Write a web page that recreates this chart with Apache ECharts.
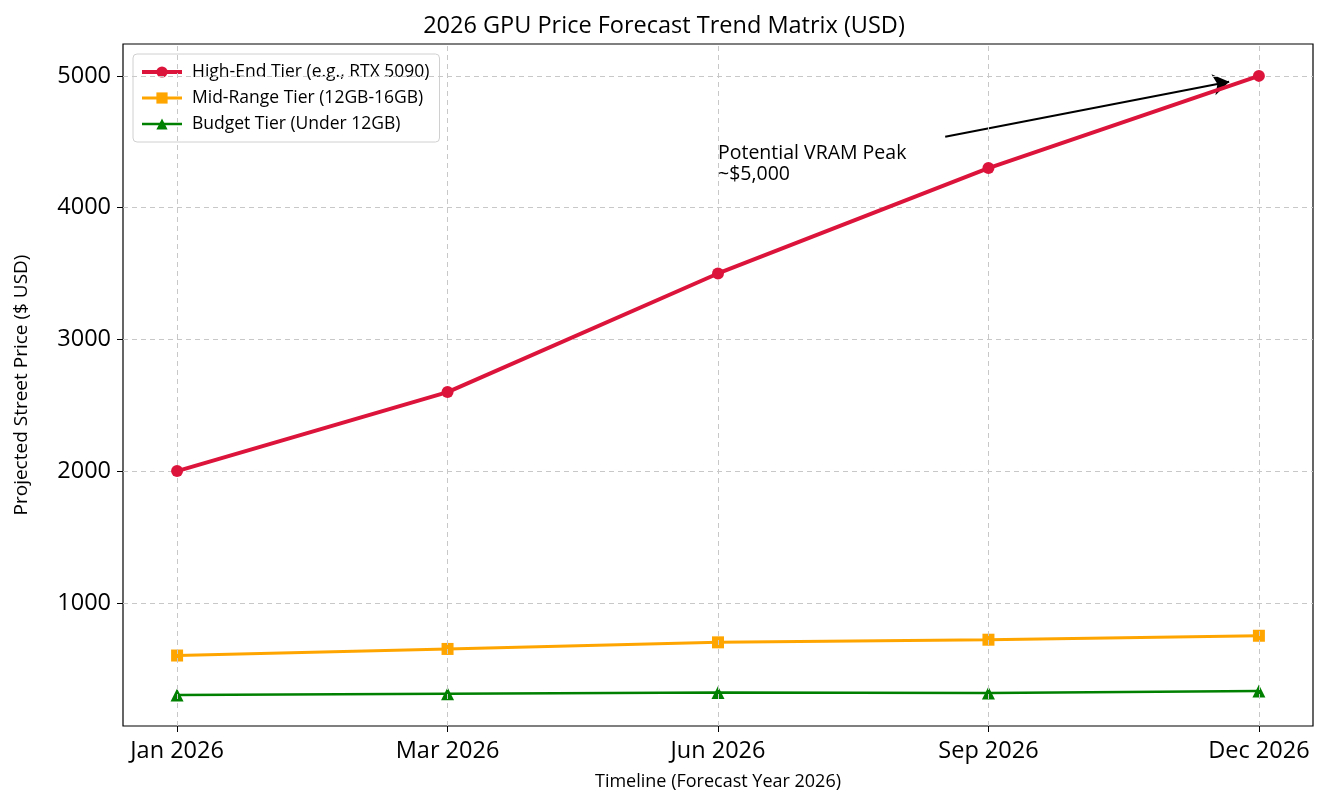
<!DOCTYPE html>
<html>
<head>
<meta charset="utf-8">
<script src="https://cdn.jsdelivr.net/npm/echarts@6/dist/echarts.min.js"></script>
<style>
  html, body { margin: 0; padding: 0; background: #fff; }
  #main { width: 1328px; height: 808px; }
</style>
</head>
<body>
<div id="main"></div>
<script>
// chart data
const months = ['Jan 2026', 'Mar 2026', 'Jun 2026', 'Sep 2026', 'Dec 2026'];
const highEnd = [2000, 2600, 3500, 4300, 5000];
const midRange = [600, 650, 700, 720, 750];
const budget = [300, 310, 320, 315, 330];
const yTicks = [1000, 2000, 3000, 4000, 5000];
const seriesNames = ['High-End Tier (e.g., RTX 5090)', 'Mid-Range Tier (12GB-16GB)', 'Budget Tier (Under 12GB)'];

// annotation (data space)
const noteText = 'Potential VRAM Peak\n~$5,000';
const noteAt = [2, 4200];
const arrowFrom = [2.84, 4538];
const arrowTo = [3.89, 4955];

const font = '"Open Sans", "Noto Sans", sans-serif';
const xIdx = months.map((m, i) => i);
const pair = arr => arr.map((v, i) => [i, v]);

const chart = echarts.init(document.getElementById('main'));

chart.setOption({
  animation: false,
  textStyle: { fontFamily: font },
  title: {
    text: '2026 GPU Price Forecast Trend Matrix (USD)',
    left: 'center',
    top: 9,
    textStyle: { fontSize: 23.5, fontWeight: 'normal', color: '#000', fontFamily: font }
  },
  legend: {
    orient: 'vertical',
    left: 133,
    top: 54,
    itemWidth: 40,
    itemHeight: 14,
    itemGap: 8,
    padding: [9, 10, 9, 7],
    backgroundColor: '#fff',
    borderColor: '#d0d0d0',
    borderWidth: 1,
    borderRadius: 4,
    textStyle: { fontSize: 17.5, color: '#000', fontFamily: font, padding: [0, 0, 0, 5] },
    data: [
      { name: seriesNames[0], lineStyle: { width: 4 } },
      { name: seriesNames[1], lineStyle: { width: 3 } },
      { name: seriesNames[2], lineStyle: { width: 2.5 } }
    ]
  },
  grid: {
    left: 123,
    right: 15,
    top: 44,
    bottom: 82,
    show: true,
    borderColor: '#000',
    borderWidth: 1.2
  },
  xAxis: {
    type: 'value',
    min: -0.2,
    max: 4.2,
    name: 'Timeline (Forecast Year 2026)',
    nameLocation: 'middle',
    nameGap: 47,
    nameTextStyle: { fontSize: 18, color: '#000' },
    axisLine: { show: false, onZero: false },
    axisTick: { show: true, length: 6, customValues: xIdx, lineStyle: { color: '#000' } },
    axisLabel: {
      customValues: xIdx,
      fontSize: 23.5,
      color: '#000',
      margin: 13,
      formatter: v => months[Math.round(v)]
    },
    splitLine: { show: false }
  },
  yAxis: {
    type: 'value',
    min: 65,
    max: 5242,
    name: 'Projected Street Price ($ USD)',
    nameLocation: 'middle',
    nameGap: 92,
    nameTextStyle: { fontSize: 19, color: '#000' },
    axisLine: { show: false, onZero: false },
    axisTick: { show: true, length: 6, customValues: yTicks, lineStyle: { color: '#000' } },
    axisLabel: { customValues: yTicks, fontSize: 23.5, color: '#000', margin: 12, formatter: v => String(v) },
    splitLine: { show: false }
  },
  series: [
    {
      name: seriesNames[0],
      type: 'line',
      data: pair(highEnd),
      color: '#DC143C',
      symbol: 'circle',
      symbolSize: 12,
      lineStyle: { width: 4 },
      z: 5,
      markLine: {
        silent: true,
        symbol: ['none', 'arrow'],
        symbolSize: 16,
        label: { show: false },
        itemStyle: { color: '#000' },
        lineStyle: { color: '#000', width: 2, type: 'solid' },
        data: [[{ coord: arrowFrom }, { coord: arrowTo }]]
      }
    },
    {
      name: seriesNames[1],
      type: 'line',
      data: pair(midRange),
      color: '#FFA500',
      symbol: 'rect',
      symbolSize: 12,
      lineStyle: { width: 3 },
      z: 4
    },
    {
      name: seriesNames[2],
      type: 'line',
      data: pair(budget),
      color: '#008000',
      symbol: 'triangle',
      symbolSize: 13,
      lineStyle: { width: 2.5 },
      z: 3
    },
    {
      // dashed grid lines
      type: 'line',
      data: [],
      silent: true,
      z: 1,
      markLine: {
        silent: true,
        symbol: 'none',
        label: { show: false },
        lineStyle: { color: '#c8c8c8', width: 1, type: [5, 4] },
        data: xIdx.map(i => ({ xAxis: i })).concat(yTicks.map(v => ({ yAxis: v })))
      }
    }
  ]
});

const p = chart.convertToPixel({ gridIndex: 0 }, noteAt);
chart.setOption({
  graphic: [{
    type: 'text',
    x: p[0],
    y: p[1] + 4,
    style: {
      text: noteText,
      font: '19.5px ' + font,
      fill: '#000',
      lineHeight: 21,
      verticalAlign: 'bottom',
      align: 'left'
    },
    z: 10
  }]
});
</script>
</body>
</html>
